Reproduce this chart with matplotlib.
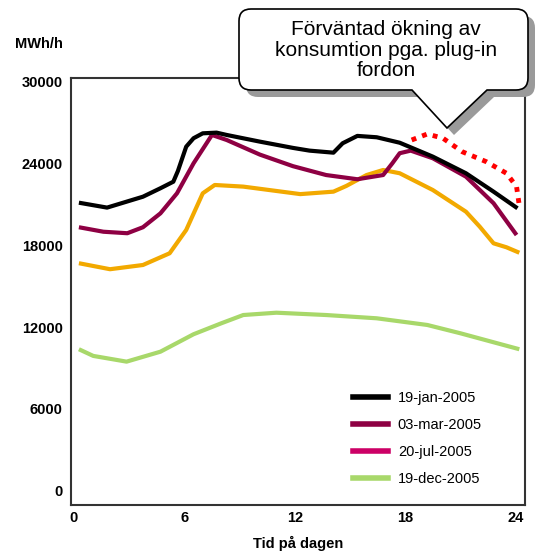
import matplotlib
matplotlib.use("Agg")
import matplotlib.pyplot as plt
from matplotlib.path import Path
from matplotlib.patches import PathPatch
from matplotlib.lines import Line2D

plt.rcParams['font.family'] = ['Liberation Sans', 'DejaVu Sans']

# Data (hour of day, MWh/h)
jan_h = [0.27, 1.8, 3.75, 4.7, 5.4, 5.65, 6.1, 6.5, 7.0, 7.75, 8.3, 10.1, 11.9, 12.8,
         14.1, 14.6, 15.4, 16.45, 17.7, 19.5, 21.3, 22.8, 24.1]
jan_v = [21120, 20760, 21560, 22180, 22660, 23450, 25230, 25850, 26210, 26260, 26090,
         25600, 25140, 24940, 24790, 25480, 26020, 25920, 25520, 24500, 23280, 21930, 20710]

mar_h = [0.27, 1.6, 2.9, 3.75, 4.7, 5.6, 6.5, 7.5, 8.3, 10.1, 11.9, 13.7, 15.4, 16.8,
         17.3, 17.7, 18.3, 19.5, 21.3, 22.8, 24.05]
mar_v = [19320, 18990, 18880, 19320, 20340, 21810, 24010, 26090, 25720, 24650, 23800,
         23150, 22840, 23150, 24010, 24750, 24940, 24380, 23030, 21080, 18750]

jul_h = [0.27, 1.96, 3.75, 5.2, 6.1, 7.0, 7.65, 9.2, 12.3, 14.1, 14.8, 15.9, 16.8, 17.7,
         19.5, 21.3, 22.05, 22.8, 23.5, 24.2]
jul_v = [16680, 16240, 16550, 17410, 19120, 21810, 22420, 22300, 21750, 21930, 22350,
         23150, 23520, 23280, 22050, 20460, 19360, 18140, 17850, 17450]

dec_h = [0.27, 1.05, 2.86, 4.7, 6.5, 8.0, 9.2, 11.0, 13.7, 16.45, 19.2, 21.0, 24.2]
dec_v = [10370, 9880, 9460, 10190, 11470, 12270, 12880, 13050, 12880, 12640, 12150,
         11540, 10370]

plugin_h = [18.35, 19.2, 20.05, 21.1, 22.4, 23.5, 24.05, 24.2]
plugin_v = [25720, 26160, 25850, 24860, 24130, 23280, 22300, 20900]

legend_labels = ['19-jan-2005', '03-mar-2005', '20-jul-2005', '19-dec-2005']
legend_colors = ['#000000', '#8E0043', '#CC0066', '#A8D86A']

xticks = [0, 6, 12, 18, 24]
yticks = [0, 6000, 12000, 18000, 24000, 30000]

fig = plt.figure(figsize=(5.37, 5.53), dpi=100)
ax = fig.add_axes([0.1322, 0.0868, 0.8455, 0.7722])

lw = 3.0
ax.plot(dec_h, dec_v, color='#A8D86A', lw=lw, solid_joinstyle='round', solid_capstyle='butt')
ax.plot(jul_h, jul_v, color='#F2A900', lw=lw, solid_joinstyle='round', solid_capstyle='butt')
ax.plot(mar_h, mar_v, color='#8E0043', lw=lw, solid_joinstyle='round', solid_capstyle='butt')
ax.plot(jan_h, jan_v, color='#000000', lw=lw, solid_joinstyle='round', solid_capstyle='butt')
ax.plot(plugin_h, plugin_v, color='#FF0000', lw=3.5, linestyle=(0, (1, 1.3)))

ax.set_xlim(-0.16, 24.51)
ax.set_ylim(-1057, 30270)
ax.set_xticks(xticks)
ax.set_yticks(yticks)
ax.tick_params(length=0, labelsize=10.5)
ax.tick_params(axis='y', pad=6)
ax.tick_params(axis='x', pad=4)
for lab in ax.get_xticklabels() + ax.get_yticklabels():
    lab.set_fontweight('bold')
for sp in ax.spines.values():
    sp.set_color('#333333')
    sp.set_linewidth(1.5)
ax.set_xlabel('Tid på dagen', fontsize=10.5, fontweight='bold', labelpad=8)

handles = [Line2D([], [], color=c, lw=4) for c in legend_colors]
ax.legend(handles, legend_labels, loc='upper left', bbox_to_anchor=(346 / 537, 1 - 384 / 553),
          bbox_transform=fig.transFigure, frameon=False, fontsize=10.5, borderpad=0,
          handlelength=2.4, handletextpad=0.65, labelspacing=0.88)

fig.text(15 / 537, 1 - 44 / 553, 'MWh/h', fontsize=10.5, fontweight='bold', va='center')

# callout bubble in pixel coordinates
ov = fig.add_axes([0, 0, 1, 1], zorder=5)
ov.set_xlim(0, 537)
ov.set_ylim(553, 0)
ov.axis('off')
ov.patch.set_alpha(0)

L, R, T, B, r = 239, 528, 9, 90, 12
xa, xb, tip = 412, 487, (447, 128)
verts = [(L + r, T), (R - r, T), (R, T), (R, T + r), (R, B - r), (R, B), (R - r, B),
         (xb, B), tip, (xa, B), (L + r, B), (L, B), (L, B - r), (L, T + r), (L, T), (L + r, T),
         (L + r, T)]
codes = [Path.MOVETO, Path.LINETO, Path.CURVE3, Path.CURVE3, Path.LINETO, Path.CURVE3, Path.CURVE3,
         Path.LINETO, Path.LINETO, Path.LINETO, Path.LINETO, Path.CURVE3, Path.CURVE3, Path.LINETO,
         Path.CURVE3, Path.CURVE3, Path.CLOSEPOLY]
shadow = Path([(x + 7, y + 7) for x, y in verts], codes)
ov.add_patch(PathPatch(shadow, facecolor='#9a9a9a', edgecolor='none'))
ov.add_patch(PathPatch(Path(verts, codes), facecolor='white', edgecolor='black', lw=1.2))
ov.text(386, 50, 'Förväntad ökning av\nkonsumtion pga. plug-in\nfordon', fontsize=15,
        ha='center', va='center', linespacing=1.12)

fig.savefig('out.png', dpi=100)
